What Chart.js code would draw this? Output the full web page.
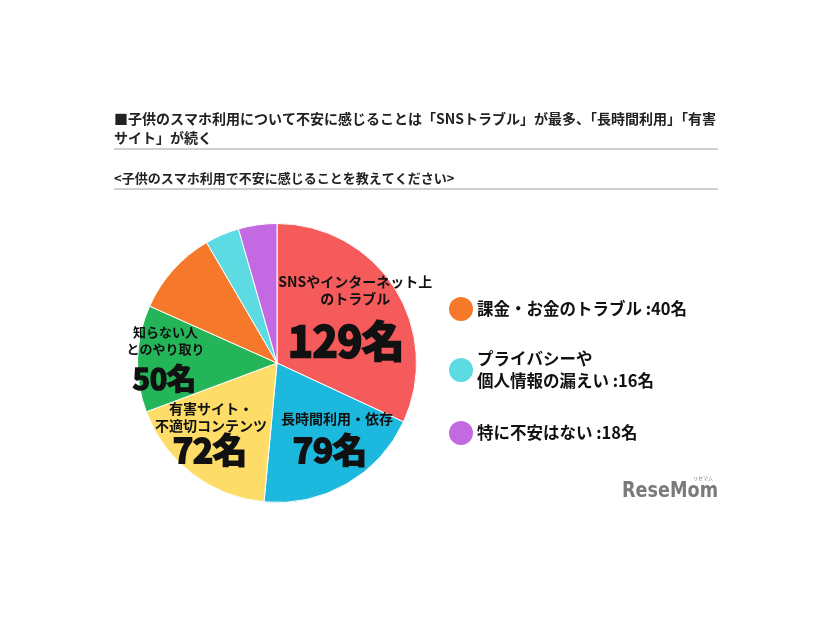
<!DOCTYPE html>
<html lang="ja">
<head>
<meta charset="utf-8">
<script src="https://cdn.jsdelivr.net/npm/chart.js@4.4.1/dist/chart.umd.min.js"></script>
<style>
	html, body { margin: 0; padding: 0; background: #fff; }
	#wrap { width: 826px; height: 620px; }
</style>
</head>
<body>
<div id="wrap"><canvas id="chart" width="826" height="620"></canvas></div>
<script>
// data
const categories = [
	'SNSやインターネット上のトラブル',
	'長時間利用・依存',
	'有害サイト・不適切コンテンツ',
	'知らない人とのやり取り',
	'課金・お金のトラブル',
	'プライバシーや個人情報の漏えい',
	'特に不安はない',
];
const counts = [129, 79, 72, 50, 40, 16, 18];
const labelLines = [
	['SNSやインターネット上', 'のトラブル'],
	['長時間利用・依存'],
	['有害サイト・', '不適切コンテンツ'],
	['知らない人', 'とのやり取り'],
	['課金・お金のトラブル'],
	['プライバシーや', '個人情報の漏えい'],
	['特に不安はない'],
];
const unit = '名';
const titleLines = [
	'■子供のスマホ利用について不安に感じることは「SNSトラブル」が最多、「長時間利用」「有害',
	'サイト」が続く',
];
const subtitle = '<子供のスマホ利用で不安に感じることを教えてください>';
const legendFrom = 4; // these slices are named in the list on the right

const colors = ['#F55B5B', '#1DB8DD', '#FDDD68', '#23B558', '#F6782B', '#5CDCE2', '#C36AE2'];
const FONT = '"Noto Sans CJK JP", "Noto Sans", sans-serif';

// label placement inside the slices (ratio of radius, angle nudge in degrees)
const insideStyle = [
	{ ratio: 0.52, nudge: 15, small: 14, big: 42, gap: 42, dx: 9 },
	{ ratio: 0.73, nudge: -1.5, small: 14, big: 34, gap: 31, dx: 7 },
	{ ratio: 0.79, nudge: 0, small: 14, big: 34, gap: 25, dx: 1 },
	{ ratio: 0.815, nudge: -10, small: 13, big: 29, gap: 30, dx: 1 },
];

const titlePlugin = {
	id: 'titles',
	beforeDraw(chart) {
		const { ctx } = chart;
		ctx.save();
		ctx.fillStyle = '#fff';
		ctx.fillRect(0, 0, chart.width, chart.height);
		ctx.fillStyle = '#222';
		ctx.textBaseline = 'middle';
		ctx.font = 'bold 14px ' + FONT;
		titleLines.forEach((t, i) => ctx.fillText(t, 114, 119 + i * 19));
		ctx.fillStyle = '#cfcfcf';
		ctx.fillRect(114, 148, 604, 2);
		ctx.fillStyle = '#222';
		ctx.font = 'bold 13px ' + FONT;
		ctx.fillText(subtitle, 114, 178);
		ctx.fillStyle = '#cfcfcf';
		ctx.fillRect(114, 188, 604, 2);
		ctx.restore();
	},
};

const insideLabels = {
	id: 'insideLabels',
	afterDatasetsDraw(chart) {
		const { ctx } = chart;
		const meta = chart.getDatasetMeta(0);
		ctx.save();
		ctx.fillStyle = '#111';
		ctx.strokeStyle = '#111';
		ctx.textAlign = 'center';
		ctx.textBaseline = 'middle';
		insideStyle.forEach((st, i) => {
			const arc = meta.data[i];
			const { x, y, startAngle, endAngle, outerRadius } = arc.getProps(['x', 'y', 'startAngle', 'endAngle', 'outerRadius'], true);
			const mid = (startAngle + endAngle) / 2 + st.nudge * Math.PI / 180;
			const cx = x + Math.cos(mid) * outerRadius * st.ratio;
			const cy = y + Math.sin(mid) * outerRadius * st.ratio;
			const lines = labelLines[i];
			ctx.font = 'bold ' + st.small + 'px ' + FONT;
			lines.forEach((l, j) => {
				ctx.fillText(l, cx + st.dx, cy - st.gap - (lines.length - 1 - j) * 17);
			});
			ctx.font = 'bold ' + st.big + 'px ' + FONT;
			ctx.lineWidth = st.big / 18;
			const txt = counts[i] + unit;
			ctx.strokeText(txt, cx, cy);
			ctx.fillText(txt, cx, cy);
		});
		ctx.restore();
	},
};

const sideLegend = {
	id: 'sideLegend',
	afterDraw(chart) {
		const { ctx } = chart;
		const rows = [309, 370, 433];
		ctx.save();
		ctx.textBaseline = 'middle';
		ctx.font = 'bold 16.5px ' + FONT;
		for (let i = legendFrom; i < counts.length; i++) {
			const cy = rows[i - legendFrom];
			ctx.fillStyle = colors[i];
			ctx.beginPath();
			ctx.arc(461, cy, 12, 0, Math.PI * 2);
			ctx.fill();
			ctx.fillStyle = '#111';
			const lines = labelLines[i].slice();
			lines[lines.length - 1] += ' :' + counts[i] + unit;
			const top = cy - (lines.length - 1) * 11;
			lines.forEach((l, j) => ctx.fillText(l, 477, top + j * 22));
		}

		// logo
		ctx.fillStyle = '#7a7a7a';
		ctx.font = 'bold 22px "DejaVu Sans", sans-serif';
		const w = ctx.measureText('ReseMom').width;
		ctx.save();
		ctx.translate(622, 491);
		ctx.scale(96 / w, 1);
		ctx.fillText('ReseMom', 0, 0);
		ctx.restore();
		ctx.font = '5px ' + FONT;
		ctx.fillText('リセマム', 693, 478);
		ctx.restore();
	},
};

new Chart(document.getElementById('chart'), {
	type: 'pie',
	data: {
		labels: categories,
		datasets: [
			{
				data: counts,
				backgroundColor: colors,
				borderColor: '#fff',
				borderWidth: 1,
			},
		],
	},
	options: {
		responsive: false,
		animation: false,
		layout: {
			padding: { left: 137, top: 223, right: 409, bottom: 117 },
		},
		plugins: {
			legend: { display: false },
			tooltip: { enabled: false },
		},
	},
	plugins: [titlePlugin, insideLabels, sideLegend],
});
</script>
</body>
</html>
